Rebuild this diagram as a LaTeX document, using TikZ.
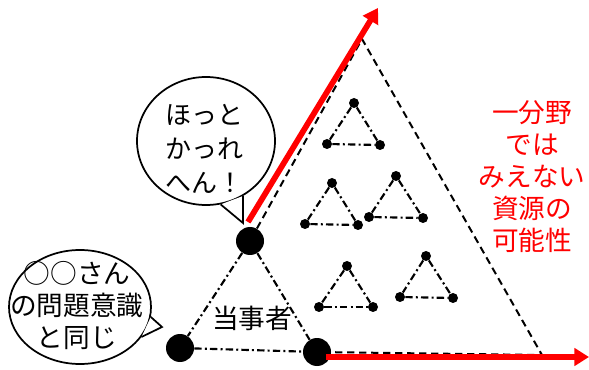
\documentclass[tikz,border=0pt]{standalone}
\usepackage{fontspec}
\setmainfont{Noto Sans CJK JP}
\usetikzlibrary{arrows.meta,shapes.geometric}
\begin{document}
\begin{tikzpicture}[x=0.75pt,y=-0.75pt,
  bigdot/.style={circle,fill=black,inner sep=0pt,minimum size=21pt},
  smalldot/.style={circle,fill=black,inner sep=0pt,minimum size=7.5pt},
  dashdotline/.style={line width=1.6pt,dash pattern=on 5.5pt off 2.4pt on 1.5pt off 2.4pt},
  bigdash/.style={line width=1.5pt,dash pattern=on 5.5pt off 3.5pt},
  redarrow/.style={red,line width=4.3pt,-{Triangle[length=11pt,width=13pt]}},
  bubble/.style={ellipse,draw,line width=1.3pt,fill=white,inner sep=0pt},
  tail/.style={line width=1.3pt,line join=miter},
  lbl/.style={align=center,inner sep=0pt}
]
\useasboundingbox (0,0) rectangle (589,370);

% main triangle dots
\node[bigdot] (A) at (250,241) {};
\node[bigdot] (B) at (180,348) {};
\node[bigdot] (C) at (317,352) {};

% big dashed triangle
\coordinate (P) at (362,39);
\coordinate (Q) at (542,355);
\draw[bigdash] (A) -- (P) -- (Q) -- (C);

% main triangle sides
\draw[dashdotline] (A) -- (B);
\draw[dashdotline] (A) -- (C);
\draw[dashdotline] (B) -- (C);

% small triangles
\foreach \n/\ax/\ay/\lx/\ly/\rx/\ry in {
  1/354/103/327/144/380/145,
  2/332/183/305/224/358/225,
  3/396/176/369/217/423/218,
  4/347/266/319/307/373/307,
  5/426/256/400/297/453/298} {
  \node[smalldot] (t\n a) at (\ax,\ay) {};
  \node[smalldot] (t\n b) at (\lx,\ly) {};
  \node[smalldot] (t\n c) at (\rx,\ry) {};
  \draw[dashdotline] (t\n a) -- (t\n b);
  \draw[dashdotline] (t\n b) -- (t\n c);
  \draw[dashdotline] (t\n a) -- (t\n c);
}

% red arrows
\coordinate (r1s) at (248,222);
\coordinate (r1e) at (378,8);
\draw[redarrow] (r1s) -- (r1e);
\coordinate (r2s) at (326,357);
\coordinate (r2e) at (589,357);
\draw[redarrow] (r2s) -- (r2e);

% bubble 1
\node[bubble,minimum width=103.5pt,minimum height=96pt] (b1) at (206,141) {};
\coordinate (b1tip) at (243,223);
\fill[white] (b1.-77) -- (b1tip) -- (b1.-56) -- cycle;
\draw[tail] (b1.-77) -- (b1tip) -- (b1.-56);
\node[lbl,font=\fontsize{19.5pt}{25.5pt}\selectfont] (b1t) at (204,149) {ほっと\\かっれ\\へん！};

% bubble 2
\node[bubble,minimum width=106.5pt,minimum height=85.5pt] (b2) at (80,307) {};
\coordinate (b2tip) at (162,327);
\fill[white] (b2.-8) -- (b2tip) -- (b2.-26) -- cycle;
\draw[tail] (b2.-8) -- (b2tip) -- (b2.-26);
\node[lbl,font=\fontsize{20pt}{24pt}\selectfont] (b2t) at (77,306) {○○さん\\の問題意識\\と同じ};

% labels
\node[lbl,font=\fontsize{20pt}{24pt}\selectfont] (who) at (252,318) {当事者};
\node[lbl,text=red,font=\fontsize{20pt}{24pt}\selectfont] (redtxt) at (532,177) {一分野\\では\\みえない\\資源の\\可能性};
\end{tikzpicture}
\end{document}
